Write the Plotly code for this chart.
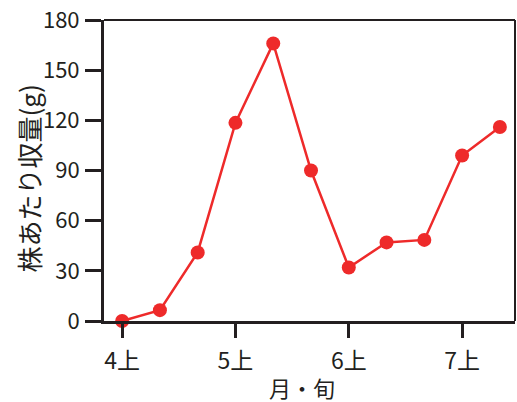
import plotly.graph_objects as go

categories = ["4上", "4中", "4下", "5上", "5中", "5下", "6上", "6中", "6下", "7上", "7中"]
yield_g = [0, 6.5, 41, 118.5, 166, 90, 32, 47, 48.5, 99, 116]
x_ticks = ["4上", "5上", "6上", "7上"]
y_ticks = [0, 30, 60, 90, 120, 150, 180]
x_title = "月・旬"
y_title = "株あたり収量(g)"

font_family = "Noto Sans CJK JP"
red = "#ee2a2a"
axis_col = "#231f20"

fig = go.Figure()
fig.add_trace(go.Scatter(
    x=list(range(len(categories))), y=yield_g, mode="lines+markers",
    line=dict(color=red, width=2.5),
    marker=dict(color=red, size=14, symbol="circle"),
    cliponaxis=False, showlegend=False,
))

fig.update_layout(
    width=517, height=402,
    margin=dict(l=104, r=2, t=20, b=81, autoexpand=False),
    paper_bgcolor="white", plot_bgcolor="white",
    font=dict(family=font_family, color="#231f20", size=22),
    xaxis=dict(
        range=[-0.48, 10.4],
        tickmode="array",
        tickvals=[categories.index(t) for t in x_ticks],
        ticktext=x_ticks,
        ticks="outside", ticklen=14, tickwidth=2.5, tickcolor=axis_col,
        showline=True, linecolor=axis_col, linewidth=2.5,
        showgrid=False, zeroline=False, automargin=False,
        tickfont=dict(size=23), ticklabelstandoff=4,
        ticklabeloverflow="allow",
    ),
    yaxis=dict(
        range=[0, 180],
        tickmode="array", tickvals=y_ticks,
        ticks="outside", ticklen=16, tickwidth=2.5, tickcolor=axis_col,
        showline=True, linecolor=axis_col, linewidth=3,
        showgrid=False, zeroline=False, automargin=False,
        tickfont=dict(size=22), ticklabelstandoff=1,
        ticklabeloverflow="allow",
    ),
    shapes=[
        dict(type="line", xref="paper", yref="paper", x0=0, x1=1, y0=1, y1=1,
             line=dict(color=axis_col, width=2)),
        dict(type="line", xref="paper", yref="paper", x0=1, x1=1, y0=0, y1=1,
             line=dict(color=axis_col, width=2)),
    ],
    annotations=[
        dict(text=x_title, xref="paper", yref="paper", x=0.482, y=0,
             xanchor="center", yanchor="middle", yshift=-66,
             showarrow=False, font=dict(size=22)),
        dict(text=y_title, xref="paper", yref="paper", x=0, y=0.5,
             xanchor="center", yanchor="middle", xshift=-76, yshift=-8,
             textangle=-90, showarrow=False, font=dict(size=26)),
    ],
)

fig.write_html(
    "out.html",
    config={"displayModeBar": False},
    post_script="document.body.style.margin='0';document.body.style.padding='0';",
)
